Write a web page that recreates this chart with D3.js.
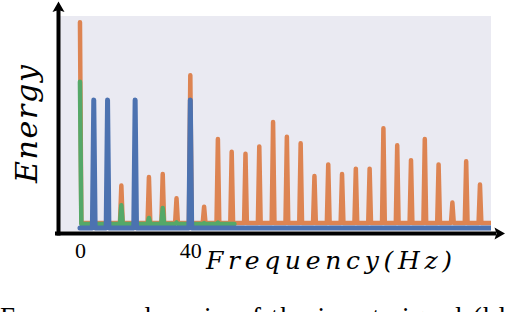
<!DOCTYPE html>
<html>
<head>
<meta charset="utf-8">
<script src="https://cdn.jsdelivr.net/npm/d3@7"></script>
<style>
  html, body { margin: 0; padding: 0; background: #fff; overflow: hidden; }
  svg { display: block; }
</style>
</head>
<body>
<svg id="chart" width="506" height="312"></svg>
<script>
// peaks of each spectrum (Hz, relative energy)
const orangeFreq = [0, 15, 25, 30, 35, 40, 45, 50, 55, 60, 65, 70, 75, 80, 85, 90, 95, 100, 105, 110, 115, 120, 125, 130, 135, 140, 145];
const orangeEnergy = [97, 20, 24, 25.5, 14, 72, 10, 42, 36, 35, 38.5, 50, 43, 40, 24.5, 30, 25.5, 28, 28, 47, 39, 32, 42, 30, 12, 31.5, 20.5];
const orangeFloor = 2.4;
const orangeEnd = 150;

const greenFreq = [0, 15, 25, 30, 35, 45, 50];
const greenEnergy = [69, 10.7, 4.7, 9.4, 2.6, 2.3, 2.5];
const greenFloor = 1.9;
const greenEnd = 56;

const blueFreq = [5, 10, 20, 40];
const blueEnergy = [60.4, 60.4, 60.4, 60.4];
const blueFloor = 0;
const blueEnd = 150;

const tickValues = [0, 40];

const svg = d3.select('#chart');

const x = d3.scaleLinear().domain([-7.6, 149]).range([59, 491]);
const y = d3.scaleLinear().domain([0, 100]).range([228, 16]);

// background panel
svg.append('rect')
  .attr('x', x.range()[0]).attr('y', y.range()[1])
  .attr('width', x.range()[1] - x.range()[0])
  .attr('height', 231 - y.range()[1])
  .attr('fill', '#eaeaf2');

svg.append('clipPath').attr('id', 'plotclip')
  .append('rect')
  .attr('x', x.range()[0]).attr('y', 0)
  .attr('width', x.range()[1] - x.range()[0])
  .attr('height', 240);

// turn the peak list into one trace: floor, spike up, back to floor
function trace(freqs, vals, floor, end) {
  const pts = [];
  if (freqs[0] > 0) pts.push([0, floor]);
  freqs.forEach((f, i) => {
    if (f > 0) pts.push([f - 0.5, floor]);
    pts.push([f, vals[i]]);
    pts.push([f + 0.5, floor]);
  });
  pts.push([end, floor]);
  return pts;
}

const line = d3.line()
  .x(d => x(d[0]))
  .y(d => y(d[1]));

const series = [
  { pts: trace(orangeFreq, orangeEnergy, orangeFloor, orangeEnd), color: '#dd8452', w: 4.5 },
  { pts: trace(greenFreq, greenEnergy, greenFloor, greenEnd), color: '#55a868', w: 4.5 },
  { pts: trace(blueFreq, blueEnergy, blueFloor, blueEnd), color: '#4c72b0', w: 5 }
];

const g = svg.append('g').attr('clip-path', 'url(#plotclip)');
g.selectAll('path.trace')
  .data(series)
  .enter()
  .append('path')
  .attr('class', 'trace')
  .attr('d', d => line(d.pts))
  .attr('fill', 'none')
  .attr('stroke', d => d.color)
  .attr('stroke-width', d => d.w)
  .attr('stroke-linejoin', 'round')
  .attr('stroke-linecap', 'round');

// axes with arrow heads
const axisY = 233.5, axisX = 58.5;
svg.append('line')
  .attr('x1', 55).attr('x2', 496).attr('y1', axisY).attr('y2', axisY)
  .attr('stroke', '#000').attr('stroke-width', 4);
svg.append('line')
  .attr('x1', axisX).attr('x2', axisX).attr('y1', 235.5).attr('y2', 9)
  .attr('stroke', '#000').attr('stroke-width', 4);
svg.append('path')
  .attr('d', `M${axisX},1.5 L${axisX + 6},12 L${axisX},10 L${axisX - 6},12 Z`)
  .attr('fill', '#000');
svg.append('path')
  .attr('d', `M505,${axisY} L494.5,${axisY - 6} L496.5,${axisY} L494.5,${axisY + 6} Z`)
  .attr('fill', '#000');

// tick labels
const xAxis = d3.axisBottom(x).tickValues(tickValues).tickSize(0).tickPadding(9);
const ax = svg.append('g').attr('transform', `translate(0,${axisY - 0.5})`).call(xAxis);
ax.select('.domain').remove();
ax.selectAll('text')
  .attr('font-family', '"Liberation Serif", "DejaVu Serif", serif')
  .attr('font-size', 22)
  .attr('fill', '#000');

// axis titles
svg.append('text')
  .attr('x', 206).attr('y', 269)
  .attr('font-family', '"DejaVu Serif", serif')
  .attr('font-style', 'italic')
  .attr('font-size', 25)
  .attr('textLength', 246)
  .attr('lengthAdjust', 'spacing')
  .text('Frequency(Hz)');

svg.append('text')
  .attr('transform', 'translate(37,183) rotate(-90)')
  .attr('font-family', '"DejaVu Serif", serif')
  .attr('font-style', 'italic')
  .attr('font-size', 30)
  .attr('textLength', 118)
  .attr('lengthAdjust', 'spacing')
  .text('Energy');

// caption cut off by the bottom edge
svg.append('text')
  .attr('x', 0).attr('y', 326)
  .attr('font-family', '"Liberation Serif", serif')
  .attr('font-size', 27)
  .attr('textLength', 506)
  .attr('lengthAdjust', 'spacing')
  .text('Frequency domain of the input signal (bl');
</script>
</body>
</html>
